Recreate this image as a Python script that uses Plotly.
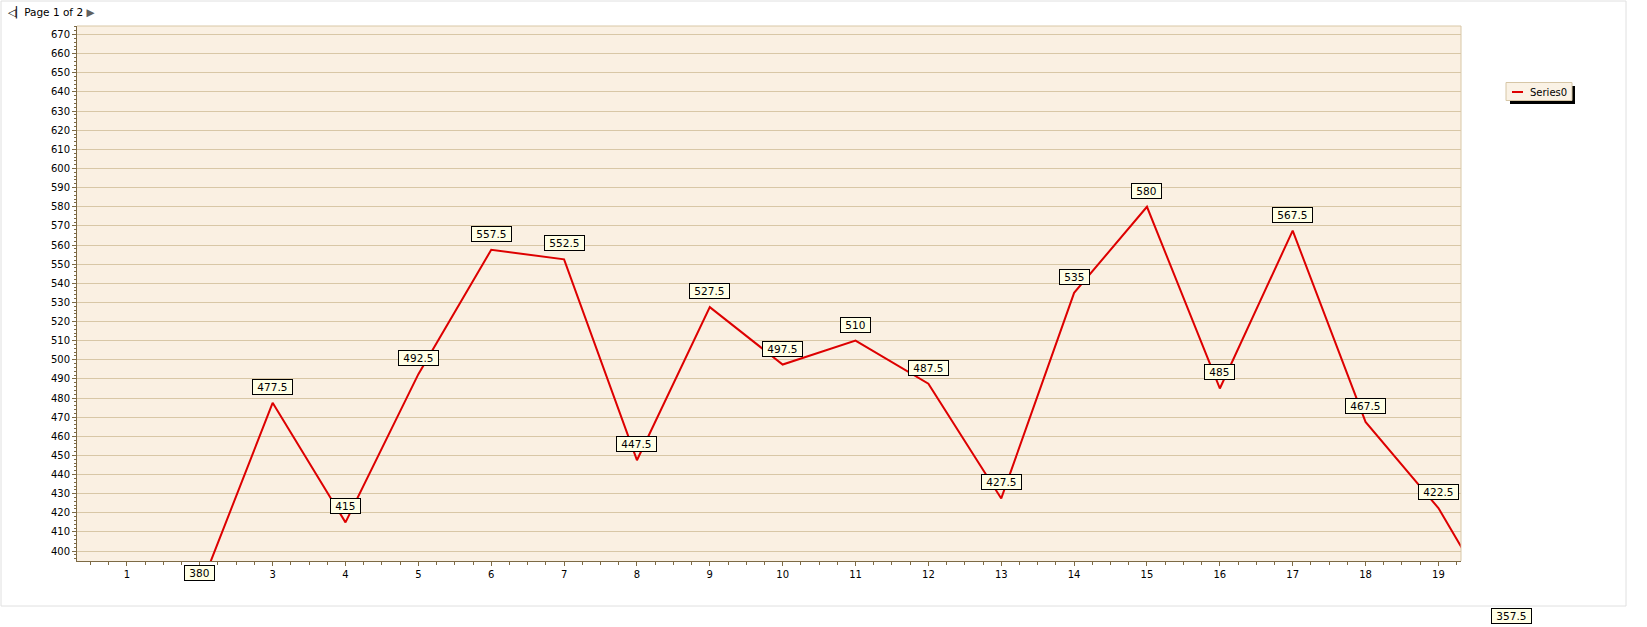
import plotly.graph_objects as go

# ---- data ----
x_values = [2, 3, 4, 5, 6, 7, 8, 9, 10, 11, 12, 13, 14, 15, 16, 17, 18, 19, 20]
y_values = [380, 477.5, 415, 492.5, 557.5, 552.5, 447.5, 527.5, 497.5, 510,
            487.5, 427.5, 535, 580, 485, 567.5, 467.5, 422.5, 357.5]
series_name = "Series0"
x_tick_values = list(range(1, 20))
# tick "2" is covered by the 380 value box in the reference
x_tick_text = ["" if v == 2 else str(v) for v in x_tick_values]
page_text = "Page 1 of 2"

# ---- layout constants ----
W, H = 1647, 627
L, R, T, B = 77, 186, 26, 66
PW, PH = W - L - R, H - T - B
X_RANGE = [0.315, 19.31]
Y_RANGE = [394.8, 674.5]

FONT = "DejaVu Sans"
LINE_RED = "#DD0000"
AXIS_COL = "#7D6A45"
GRID_COL = "#D8C7A6"
PLOT_BG = "#FAF0E2"


def px_x(p):
    return (p - L) / PW


def px_y(p):
    return (H - B - p) / PH


fig = go.Figure()
fig.add_trace(go.Scatter(
    x=x_values, y=y_values, mode="lines", name=series_name,
    line=dict(color=LINE_RED, width=2), showlegend=False,
    hoverinfo="x+y",
))

annotations = []
# value labels (placed at the value's position, even if outside the plot)
for xv, yv in zip(x_values, y_values):
    xf = (xv - X_RANGE[0]) / (X_RANGE[1] - X_RANGE[0])
    yf = (yv - Y_RANGE[0]) / (Y_RANGE[1] - Y_RANGE[0])
    annotations.append(dict(
        xref="paper", yref="paper", x=xf, y=yf, yshift=16,
        text="&nbsp;" + f"{yv:g}" + "&nbsp;", showarrow=False,
        font=dict(family=FONT, size=10.5, color="black"),
        bgcolor="#FFFFE6", bordercolor="black", borderwidth=1, borderpad=1,
        height=12, xanchor="center", yanchor="middle",
    ))

# page header
annotations.append(dict(
    xref="paper", yref="paper", x=px_x(5), y=px_y(13),
    text="◁▏" + page_text + " <span style='color:#606060'>▶</span>",
    showarrow=False, xanchor="left", yanchor="middle",
    font=dict(family=FONT, size=10.5, color="black"),
))

# legend text
annotations.append(dict(
    xref="paper", yref="paper", x=px_x(1528), y=px_y(92),
    text=series_name, showarrow=False, xanchor="left", yanchor="middle",
    font=dict(family=FONT, size=10, color="black"),
))

shapes = [
    # outer frame
    dict(type="rect", xref="paper", yref="paper",
         x0=px_x(1), x1=px_x(1626), y0=px_y(606), y1=px_y(1),
         line=dict(color="#E0E0E0", width=1), layer="below"),
    # plot top/right border
    dict(type="line", xref="paper", yref="paper", x0=0, x1=1, y0=1, y1=1,
         line=dict(color=GRID_COL, width=1)),
    dict(type="line", xref="paper", yref="paper", x0=1, x1=1, y0=0, y1=1,
         line=dict(color=GRID_COL, width=1)),
    # legend shadow
    dict(type="rect", xref="paper", yref="paper",
         x0=px_x(1510), x1=px_x(1575), y0=px_y(104), y1=px_y(86),
         fillcolor="black", line=dict(width=0)),
    # legend box
    dict(type="rect", xref="paper", yref="paper",
         x0=px_x(1506), x1=px_x(1572), y0=px_y(100.5), y1=px_y(82.5),
         fillcolor="#FAF2E5", line=dict(color="#D6C6A6", width=1)),
    # legend line symbol
    dict(type="line", xref="paper", yref="paper",
         x0=px_x(1512), x1=px_x(1523), y0=px_y(92), y1=px_y(92),
         line=dict(color=LINE_RED, width=2)),
]

fig.update_layout(
    width=W, height=H, autosize=False,
    margin=dict(l=L, r=R, t=T, b=B, pad=0),
    paper_bgcolor="white", plot_bgcolor=PLOT_BG,
    font=dict(family=FONT, size=10, color="black"),
    showlegend=False,
    annotations=annotations, shapes=shapes,
    xaxis=dict(
        range=X_RANGE, tickmode="array", tickvals=x_tick_values,
        ticktext=x_tick_text,
        showgrid=False, zeroline=False,
        showline=True, linecolor=AXIS_COL, linewidth=1,
        ticks="outside", ticklen=4, tickcolor=AXIS_COL,
        tickfont=dict(family=FONT, size=10, color="black"),
        minor=dict(dtick=0.25, tick0=0, ticks="outside", ticklen=3,
                   tickcolor=AXIS_COL, showgrid=False),
    ),
    yaxis=dict(
        range=Y_RANGE, tick0=400, dtick=10,
        showgrid=True, gridcolor=GRID_COL, gridwidth=1, zeroline=False,
        showline=True, linecolor=AXIS_COL, linewidth=1,
        ticks="outside", ticklen=4, tickcolor=AXIS_COL,
        tickfont=dict(family=FONT, size=10, color="black"),
        minor=dict(dtick=2, ticks="outside", ticklen=2,
                   tickcolor=AXIS_COL, showgrid=False),
    ),
)

fig.write_html(
    "out.html",
    config={"displayModeBar": False},
    post_script="document.body.style.margin='0';document.body.style.padding='0';",
)
